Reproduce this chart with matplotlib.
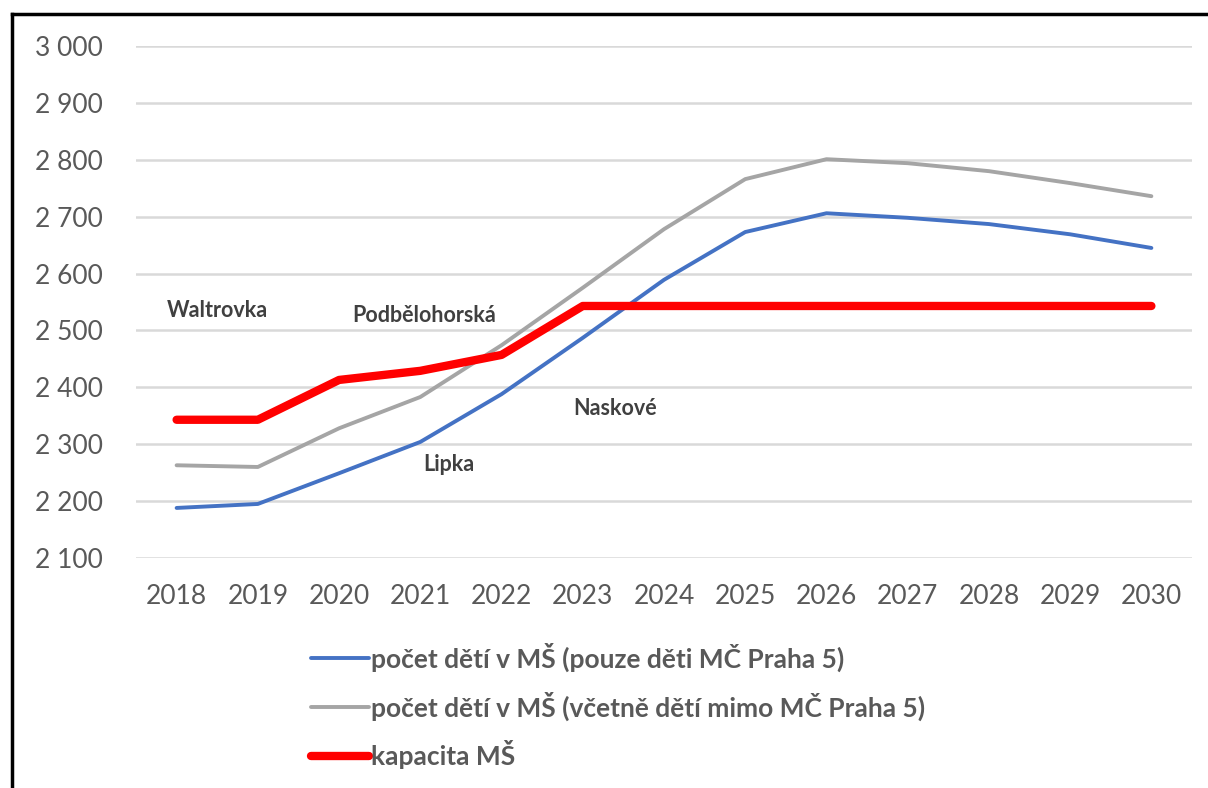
import numpy as np
import matplotlib.pyplot as plt
from matplotlib.lines import Line2D

years = ['2018', '2019', '2020', '2021', '2022', '2023', '2024',
         '2025', '2026', '2027', '2028', '2029', '2030']
only_p5 = [2188, 2195, 2249, 2304, 2388, 2487, 2589, 2673, 2706, 2698, 2687, 2669, 2645]
incl_other = [2263, 2260, 2328, 2383, 2474, 2575, 2678, 2766, 2801, 2794, 2780, 2759, 2736]
capacity = [2343, 2343, 2413, 2429, 2457, 2543, 2543, 2543, 2543, 2543, 2543, 2543, 2543]

labels = ['počet dětí v MŠ (pouze děti MČ Praha 5)',
          'počet dětí v MŠ (včetně dětí mimo MČ Praha 5)',
          'kapacita MŠ']

# school names placed in the chart (year index, value)
schools = ['Waltrovka', 'Podbělohorská', 'Lipka', 'Naskové']
school_x = [0.5, 3.05, 3.35, 5.4]
school_y = [2535, 2527, 2265, 2362]

plt.rcParams['font.family'] = ['Lato', 'DejaVu Sans']
txt = '#595959'

fig = plt.figure(figsize=(12.08, 7.88), dpi=100)
ax = fig.add_axes([136 / 1208, 1 - 558 / 788, 1056 / 1208, 512 / 788])

x = np.arange(len(years))
l1, = ax.plot(x, only_p5, color='#4472c4', lw=2.8, solid_capstyle='round', solid_joinstyle='round')
l2, = ax.plot(x, incl_other, color='#a5a5a5', lw=2.8, solid_capstyle='round', solid_joinstyle='round')
l3, = ax.plot(x, capacity, color='#ff0000', lw=6, solid_capstyle='round', solid_joinstyle='round')

for name, sx, sy in zip(schools, school_x, school_y):
    ax.text(sx, sy, name, ha='center', va='center', fontsize=15.5,
            fontweight='bold', color='#404040')

ax.set_xlim(-0.5, len(years) - 0.5)
ax.set_ylim(2100, 3000)
ax.set_xticks(x)
ax.set_xticklabels(years)
yt = np.arange(2100, 3001, 100)
ax.set_yticks(yt)
ax.set_yticklabels([f'{v:,}'.replace(',', ' ') for v in yt])
ax.tick_params(length=0, labelsize=19, labelcolor=txt)
ax.tick_params(axis='y', pad=24)
ax.tick_params(axis='x', pad=19)
ax.grid(axis='y', color='#d9d9d9', lw=1.8)
ax.set_axisbelow(True)
for s in ax.spines.values():
    s.set_visible(False)

leg = fig.legend([l1, l2, l3], labels, loc='upper left',
                 bbox_to_anchor=(300 / 1208, 1 - 632 / 788), frameon=False,
                 prop={'size': 19, 'weight': 'bold'}, handlelength=2.2,
                 handletextpad=0.1, labelspacing=0.74, borderaxespad=0)
for t in leg.get_texts():
    t.set_color(txt)

# outer frame (only top and left edges are visible in the crop)
fig.add_artist(Line2D([12 / 1208, 1], [1 - 14 / 788, 1 - 14 / 788], color='black', lw=2.5))
fig.add_artist(Line2D([12 / 1208, 12 / 1208], [0, 1 - 14 / 788], color='black', lw=2.5))

fig.savefig('out.png', dpi=100)
